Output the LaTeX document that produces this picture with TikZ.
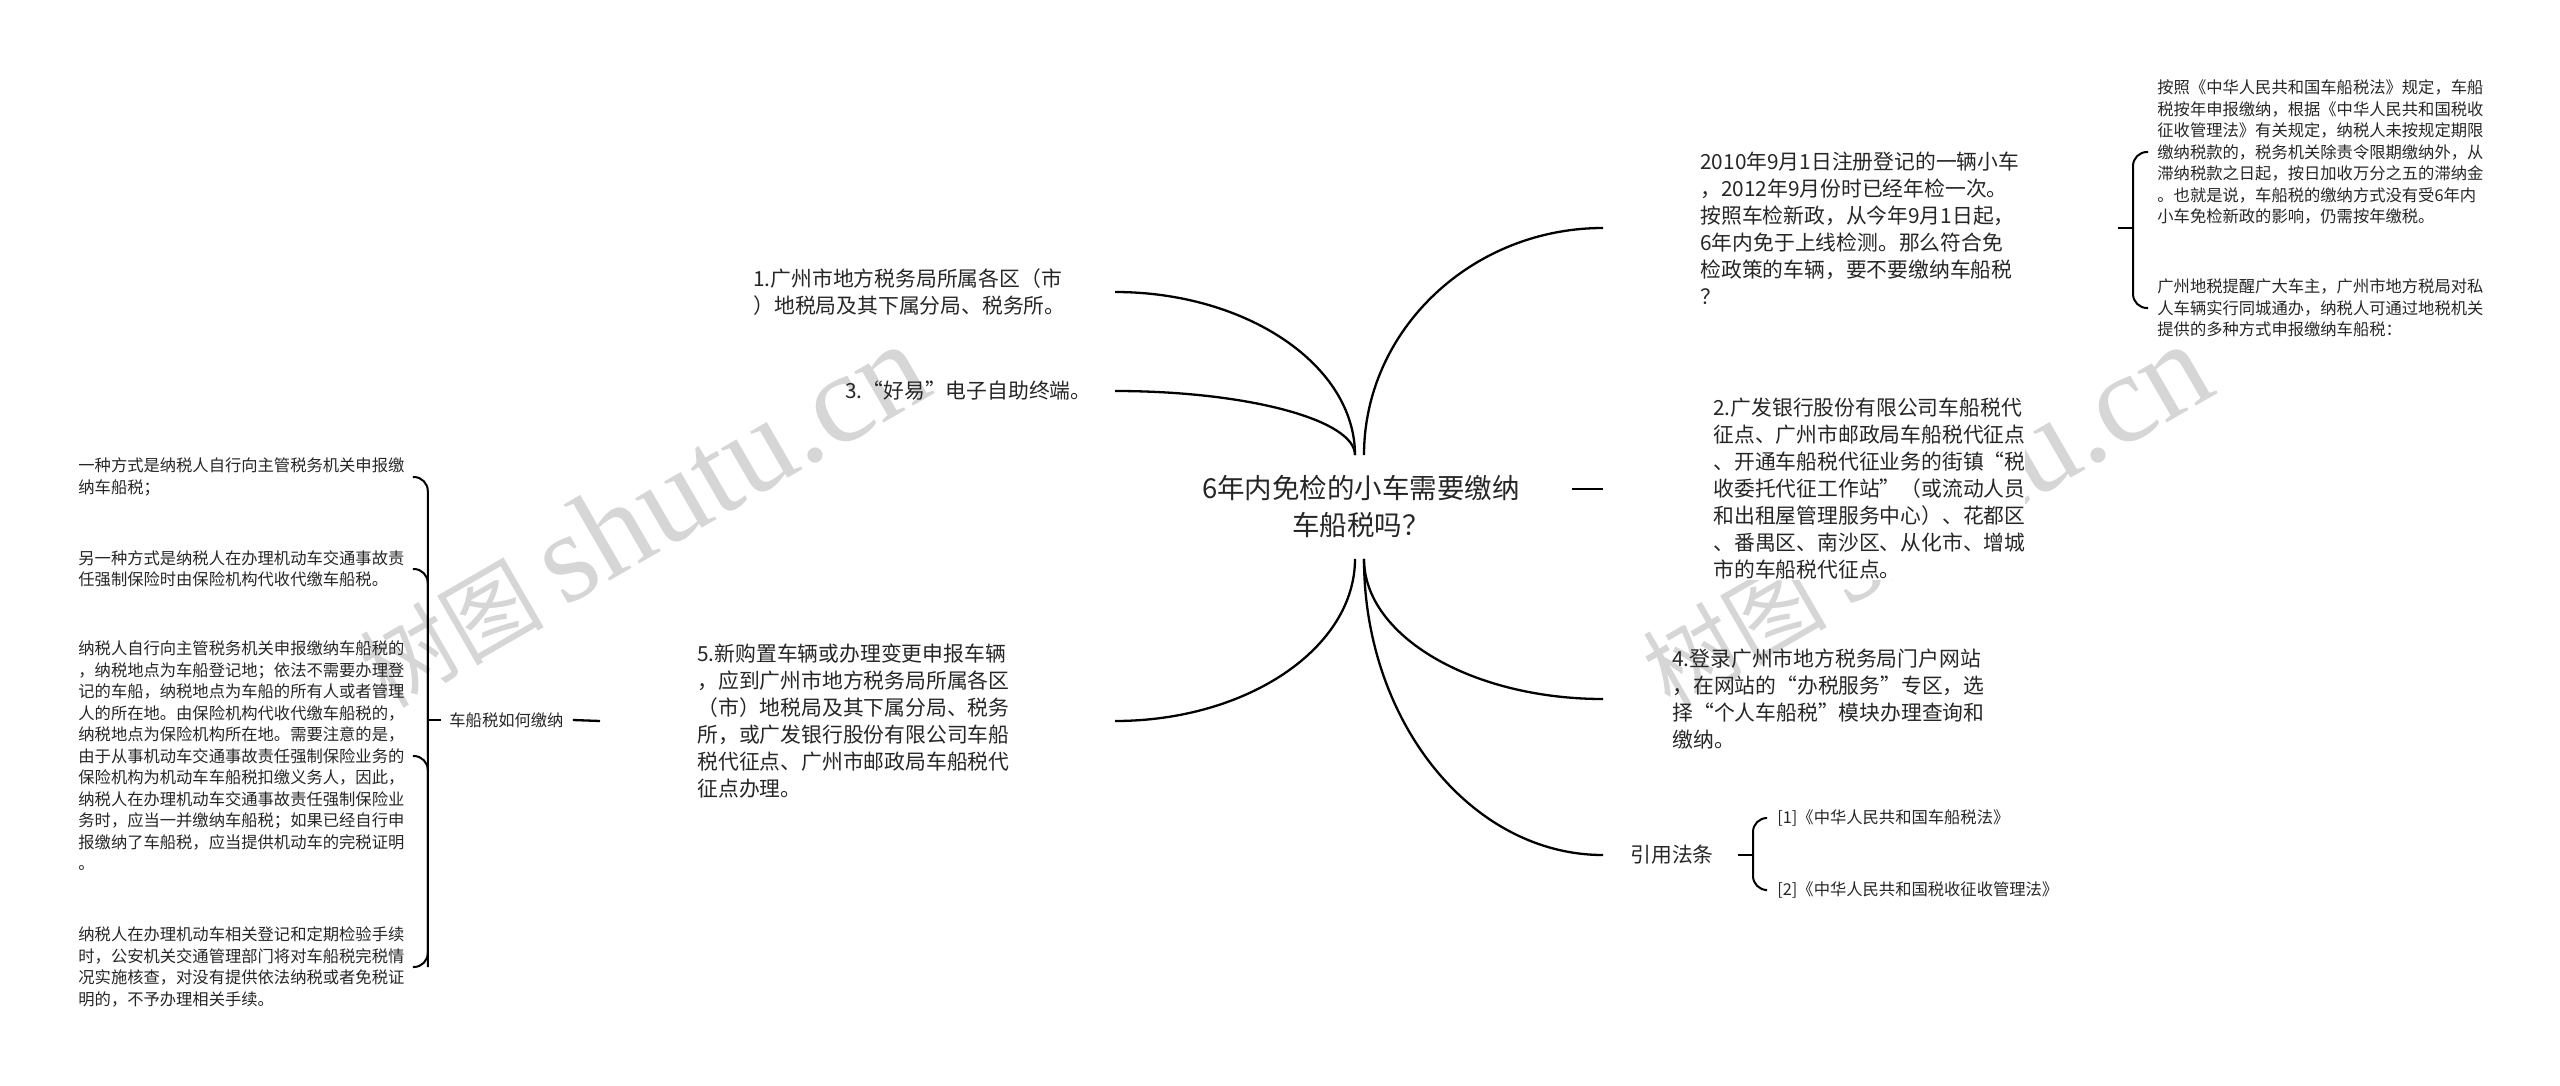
\documentclass[tikz,border=0pt]{standalone}
\usepackage{fontspec}
\setmainfont{Noto Sans CJK SC}
\newfontfamily\wmlatin{Liberation Serif}
\usetikzlibrary{calc, math}

\newcommand{\lqq}{\makebox[1em][r]{“}}
\newcommand{\rqq}{\makebox[1em][l]{”}}

\tikzset{
  topic/.style={font=\fontsize{13.75}{18.5}\selectfont, align=center, text=black!85, inner sep=0pt},
  item/.style={font=\fontsize{10.4}{13.5}\selectfont, align=left, anchor=west, text=black!85, inner sep=0pt},
  note/.style={font=\fontsize{8.15}{10.75}\selectfont, align=left, anchor=west, text=black!85, inner sep=0pt},
  branch/.style={line width=1.15pt},
  brace/.style={line width=1pt, rounded corners=7pt},
  wmark/.style={text=black!16, rotate=30, inner sep=0pt},
}

\begin{document}
\begin{tikzpicture}[x=0.5pt, y=-0.5pt]
\tikzmath{
\xl=1115;
\xr=1603;
}
\useasboundingbox (0,0) rectangle (2560,1086);

% watermark
\node[wmark] (wm1) at (642,516) {\fontsize{46}{46}\selectfont 树图 {\wmlatin\fontsize{64}{64}\selectfont shutu.cn}};
\node[wmark] (wm2) at (1925,516) {\fontsize{46}{46}\selectfont 树图 {\wmlatin\fontsize{64}{64}\selectfont shutu.cn}};

% centre
\node[topic, minimum width=211pt, minimum height=51.5pt] (root) at (1361,507) {6年内免检的小车需要缴纳\\车船税吗？};

% left side
\node[item] (n1) at (753,292) {1.广州市地方税务局所属各区（市\\）地税局及其下属分局、税务所。};
\node[item] (n3) at (845,391) {3.\lqq 好易\rqq 电子自助终端。};
\node[item] (n5) at (697,721) {5.新购置车辆或办理变更申报车辆\\，应到广州市地方税务局所属各区\\（市）地税局及其下属分局、税务\\所，或广发银行股份有限公司车船\\税代征点、广州市邮政局车船税代\\征点办理。};

% right side
\node[item] (ask) at (1700,228) {2010年9月1日注册登记的一辆小车\\，2012年9月份时已经年检一次。\\按照车检新政，从今年9月1日起，\\6年内免于上线检测。那么符合免\\检政策的车辆，要不要缴纳车船税\\？};
\node[item, fill=white] (n2) at (1713,489) {2.广发银行股份有限公司车船税代\\征点、广州市邮政局车船税代征点\\、开通车船税代征业务的街镇\lqq 税\\收委托代征工作站\rqq（或流动人员\\和出租屋管理服务中心）、花都区\\、番禺区、南沙区、从化市、增城\\市的车船税代征点。};
\node[item] (n4) at (1672,699) {4.登录广州市地方税务局门户网站\\，在网站的\lqq 办税服务\rqq 专区，选\\择\lqq 个人车船税\rqq 模块办理查询和\\缴纳。};
\node[item] (cite) at (1630,855) {引用法条};

% leaves
\node[note] (nt1) at (2157,152) {按照《中华人民共和国车船税法》规定，车船\\税按年申报缴纳，根据《中华人民共和国税收\\征收管理法》有关规定，纳税人未按规定期限\\缴纳税款的，税务机关除责令限期缴纳外，从\\滞纳税款之日起，按日加收万分之五的滞纳金\\。也就是说，车船税的缴纳方式没有受6年内\\小车免检新政的影响，仍需按年缴税。};
\node[note] (nt2) at (2157,308) {广州地税提醒广大车主，广州市地方税局对私\\人车辆实行同城通办，纳税人可通过地税机关\\提供的多种方式申报缴纳车船税：};
\node[note] (rf1) at (1777,818) {[1]《中华人民共和国车船税法》};
\node[note] (rf2) at (1777,890) {[2]《中华人民共和国税收征收管理法》};

\node[note] (howpay) at (449,720) {车船税如何缴纳};
\node[note] (pa) at (78,477) {一种方式是纳税人自行向主管税务机关申报缴\\纳车船税；};
\node[note] (pb) at (78,569) {另一种方式是纳税人在办理机动车交通事故责\\任强制保险时由保险机构代收代缴车船税。};
\node[note] (pc) at (78,756) {纳税人自行向主管税务机关申报缴纳车船税的\\，纳税地点为车船登记地；依法不需要办理登\\记的车船，纳税地点为车船的所有人或者管理\\人的所在地。由保险机构代收代缴车船税的，\\纳税地点为保险机构所在地。需要注意的是，\\由于从事机动车交通事故责任强制保险业务的\\保险机构为机动车车船税扣缴义务人，因此，\\纳税人在办理机动车交通事故责任强制保险业\\务时，应当一并缴纳车船税；如果已经自行申\\报缴纳了车船税，应当提供机动车的完税证明\\。};
\node[note] (pd) at (78,967) {纳税人在办理机动车相关登记和定期检验手续\\时，公安机关交通管理部门将对车船税完税情\\况实施核查，对没有提供依法纳税或者免税证\\明的，不予办理相关手续。};

% branches from the centre
\coordinate (L) at (\xl,0);
\coordinate (R) at (\xr,0);
\coordinate (e1) at (n1 -| L);
\coordinate (e3) at (n3 -| L);
\coordinate (e5) at (n5 -| L);
\coordinate (eq) at (ask -| R);
\coordinate (e4) at (n4 -| R);
\coordinate (e6) at (cite -| R);
\coordinate (tl) at ([xshift=-3pt]root.north);
\coordinate (tr) at ([xshift=1.5pt]root.north);
\coordinate (bl) at ([xshift=-3pt]root.south);
\coordinate (br) at ([xshift=1.5pt]root.south);
\foreach \s/\e in {tl/e1, tl/e3, bl/e5, tr/eq, br/e4, br/e6}{
  \draw[branch] (\s) .. controls ($(\s)!0.55!(\s|-\e)$) and ($(\e)!0.55!(\e-|\s)$) .. (\e);
}
\draw[branch] (root.east |- n2) -- (n2 -| R);

% right braces
\coordinate (rv) at ([xshift=-12pt]nt1.west);
\coordinate (rs) at ([xshift=-7.5pt]rv);
\draw[brace] ([xshift=-4.5pt]nt1.west) -| (rv |- nt2) -- ([xshift=-4.5pt]nt2.west);
\draw[brace] (rs |- ask) -- (rv |- ask);

\coordinate (cv) at ([xshift=-12pt]rf1.west);
\coordinate (cs) at ([xshift=-7.5pt]cv);
\draw[brace] ([xshift=-6pt]rf1.west) -| (cv |- rf2) -- ([xshift=-6pt]rf2.west);
\draw[brace] (cs |- cite) -- (cv |- cite);

% left brace
\coordinate (lv) at ([xshift=11.5pt]pa.east);
\draw[brace] ([xshift=4pt]pa.east) -| (lv |- pd) -- ([xshift=4pt]pd.east);
\draw[brace] ([xshift=4pt]pb.east) -| (lv |- pc);
\draw[brace] ([xshift=4pt]pc.east) -| (lv |- pd);
\draw[brace] (lv |- howpay) -- ([xshift=-4pt]howpay.west);
\draw[branch] ([xshift=-48.5pt]n5.west) -- ([xshift=4.5pt]howpay.east);

\end{tikzpicture}
\end{document}
